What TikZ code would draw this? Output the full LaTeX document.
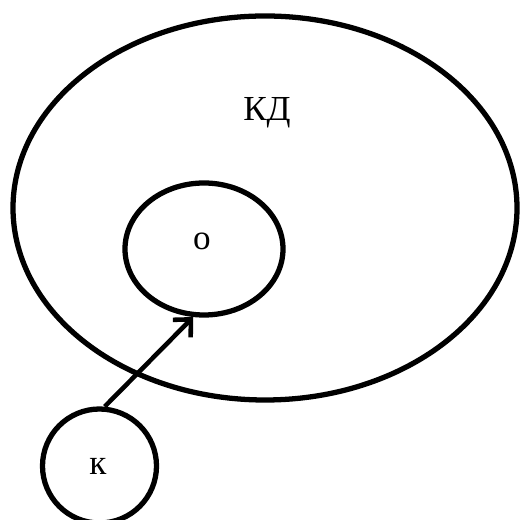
\documentclass[tikz,border=0pt]{standalone}
\usepackage{fontspec}
\setmainfont{Liberation Serif}
\usepackage{tikz}
\usetikzlibrary{positioning, arrows.meta, shapes.geometric}

\begin{document}
\begin{tikzpicture}[
    set/.style={ellipse, draw, line width=3pt, inner sep=0pt},
    label/.style={font=\fontsize{20}{24}\selectfont},
    arrow/.style={-{Straight Barb[length=2.6mm, width=5mm]}, line width=2.6pt}
]
\useasboundingbox (0,0) rectangle (10.4,10.4);

\node[set, minimum width=10.08cm, minimum height=7.68cm] (kd) at (5.30, 6.24) {};
\node[set, minimum width=3.16cm, minimum height=2.64cm] (o) at (4.08, 5.42) {};
\node[set, minimum width=2.28cm, minimum height=2.28cm] (k) at (1.99, 1.08) {};

\node[label] (kdtext) at (5.34, 8.14) {КД};
\node[label] (otext) at (4.04, 5.58) {о};
\node[label] (ktext) at (1.96, 1.08) {к};

\draw[arrow] (k.85) -- (o.261);

\end{tikzpicture}
\end{document}
